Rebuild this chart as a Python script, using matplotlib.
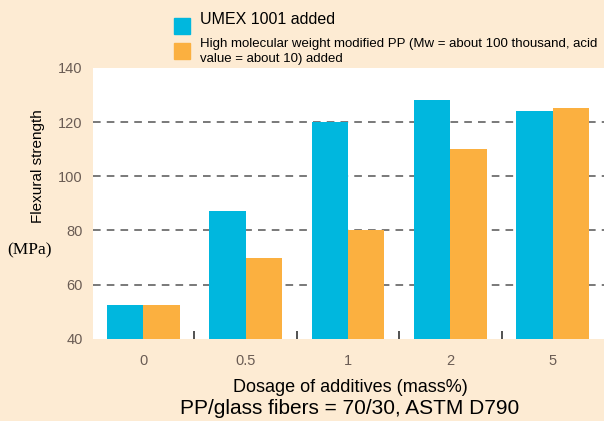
import matplotlib
matplotlib.use("Agg")
from matplotlib import pyplot as plt
import numpy as np

# data
dosages = ["0", "0.5", "1", "2", "5"]
umex_values = [52.5, 87, 120, 128, 124]
modified_pp_values = [52.5, 70, 80, 110, 125]
y_ticks = [40, 60, 80, 100, 120, 140]

bg = "#fdebd3"
blue = "#00b7de"
orange = "#fbb040"
tick_color = "#6a5c54"
sans = ["Liberation Sans", "DejaVu Sans"]

fig = plt.figure(figsize=(6.04, 4.21), dpi=100, facecolor=bg)
ax = fig.add_axes([0.154, 0.195, 0.846, 0.644])
ax.set_facecolor("white")

x = np.arange(len(dosages))
w = 0.355
ax.bar(x - w / 2, umex_values, width=w, color=blue, zorder=3)
ax.bar(x + w / 2, modified_pp_values, width=w, color=orange, zorder=3)

ax.set_xlim(-0.49, 4.5)
ax.set_ylim(40, 140)
ax.set_yticks(y_ticks)
ax.set_yticklabels([str(v) for v in y_ticks], family=sans, fontsize=10.5, color=tick_color)
ax.set_xticks(x)
ax.set_xticklabels(dosages, family=sans, fontsize=10.5, color=tick_color)
ax.set_xticks(x[:-1] + 0.5, minor=True)
ax.tick_params(axis="y", length=0, pad=7.5)
ax.tick_params(axis="x", which="major", length=0, pad=11)
ax.tick_params(axis="x", which="minor", direction="in", length=6, width=1.2, color="#333333")

for v in [60, 80, 100, 120]:
    ax.axhline(v, color="#555555", linestyle=(0, (5, 4)), linewidth=1.1, zorder=1)

for s in ax.spines.values():
    s.set_visible(False)

# y axis label
fig.text(38 / 604, 1 - 166 / 421, "Flexural strength", rotation=90, ha="center", va="center",
         family=sans, fontsize=11)
fig.text(30 / 604, 1 - 250 / 421, "(MPa)", ha="center", va="center",
         family=["Liberation Serif", "DejaVu Serif"], fontsize=12.5)

# x axis labels
fig.text(350 / 604, 1 - 388 / 421, "Dosage of additives (mass%)", ha="center", va="center",
         family=sans, fontsize=13)
fig.text(350 / 604, 1 - 409 / 421, "PP/glass fibers = 70/30, ASTM D790", ha="center", va="center",
         family=sans, fontsize=15)

# legend drawn by hand
fig.patches.append(plt.Rectangle((174 / 604, 1 - 34 / 421), 16 / 604, 16 / 421,
                                 transform=fig.transFigure, color=blue, figure=fig))
fig.patches.append(plt.Rectangle((174 / 604, 1 - 59 / 421), 16 / 604, 16 / 421,
                                 transform=fig.transFigure, color=orange, figure=fig))
fig.text(200 / 604, 1 - 20 / 421, "UMEX 1001 added", ha="left", va="center",
         family=sans, fontsize=11.5)
fig.text(200 / 604, 1 - 51.5 / 421,
         "High molecular weight modified PP (Mw = about 100 thousand, acid\nvalue = about 10) added",
         ha="left", va="center", family=sans, fontsize=9.5, linespacing=1.35)

fig.savefig("out.png", dpi=100, facecolor=bg)
